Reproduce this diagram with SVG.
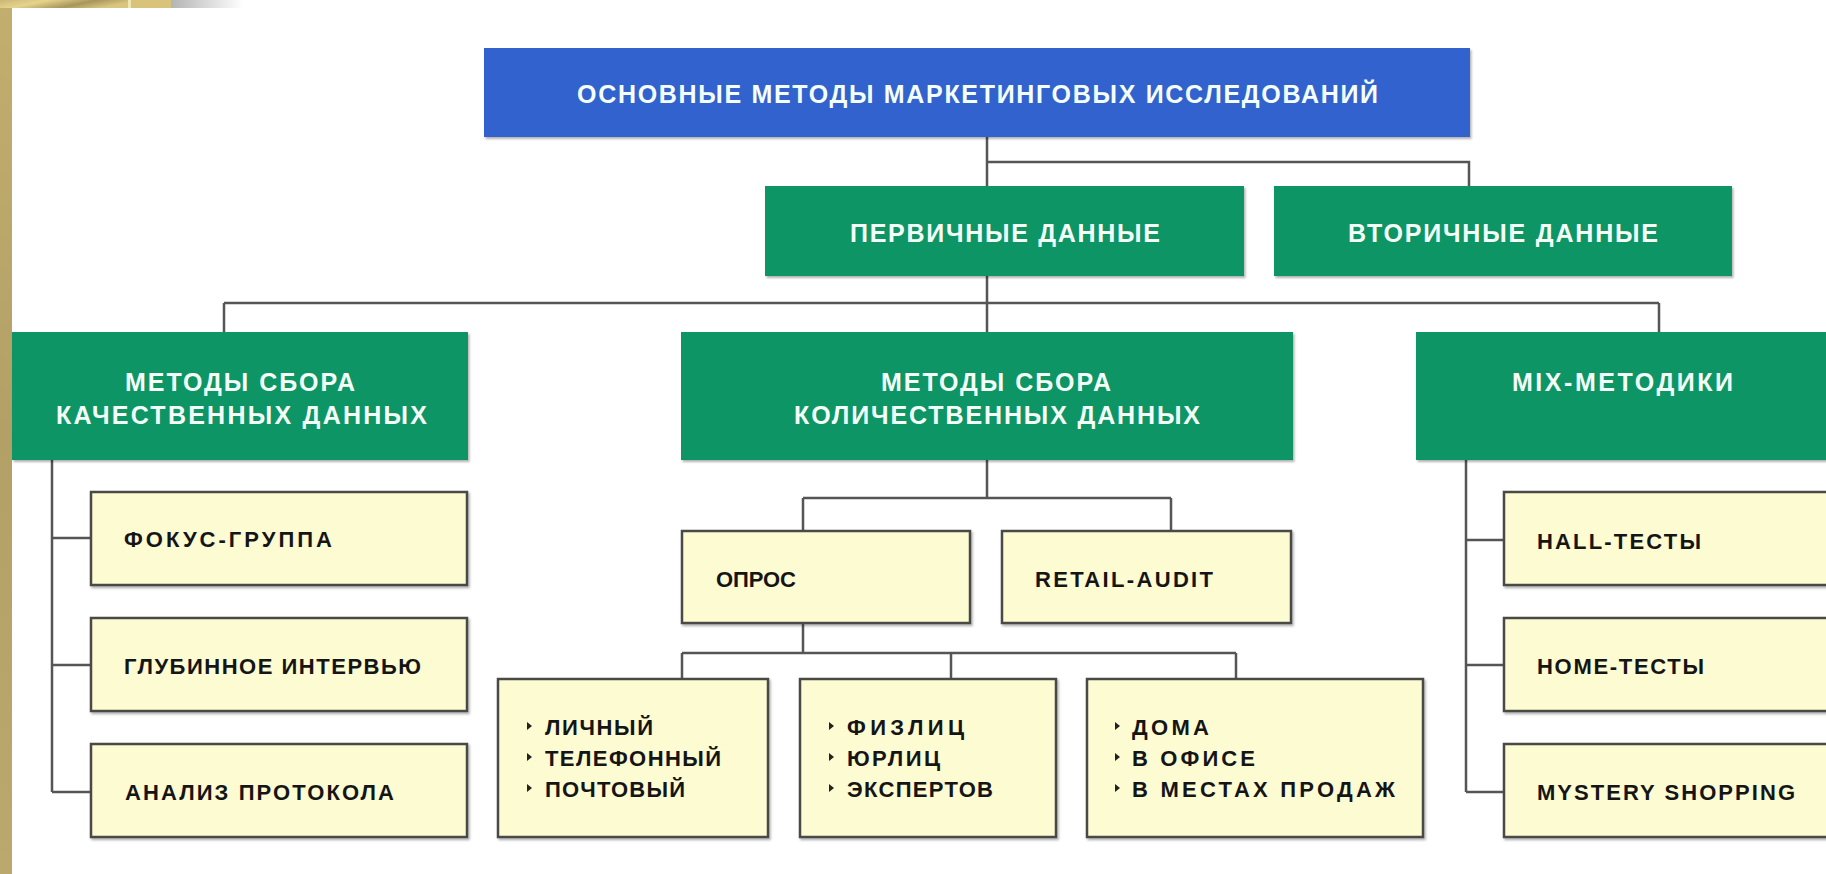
<svg xmlns="http://www.w3.org/2000/svg" width="1826" height="874" viewBox="0 0 1826 874">
<defs>
<linearGradient id="gold" x1="0" y1="0" x2="1" y2="0.3">
<stop offset="0" stop-color="#C9B677"/><stop offset="0.35" stop-color="#E6D48C"/><stop offset="0.7" stop-color="#A8955C"/><stop offset="1" stop-color="#D9C57F"/>
</linearGradient>
<linearGradient id="goldv" x1="0" y1="0" x2="0" y2="1">
<stop offset="0" stop-color="#C2AE6E"/><stop offset="0.5" stop-color="#B3A066"/><stop offset="1" stop-color="#BBA86C"/>
</linearGradient>
<linearGradient id="gray" x1="0" y1="0" x2="1" y2="0">
<stop offset="0" stop-color="#B4B4B4"/><stop offset="1" stop-color="#FFFFFF"/>
</linearGradient>
<filter id="sh" x="-5%" y="-5%" width="110%" height="120%">
<feDropShadow dx="1.5" dy="2" stdDeviation="1.2" flood-color="#000" flood-opacity="0.3"/>
</filter>
</defs>
<style>
.blue{fill:#3062CD;filter:url(#sh)}
.green{fill:#0A9566;filter:url(#sh)}
.yel{fill:#FDFBD2;stroke:#4A4A45;stroke-width:2.5;filter:url(#sh)}
.wt{font-family:"Liberation Sans",Arial,sans-serif;font-weight:bold;font-size:25px;fill:#F4FFF8}
.bt{font-family:"Liberation Sans",Arial,sans-serif;font-weight:bold;font-size:22px;fill:#151515}
.con{fill:none;stroke:#555;stroke-width:2.5}
.bul{fill:#222}
</style>
<rect width="1826" height="874" fill="#FFFFFF"/>
<g id="background">
<rect x="0" y="0" width="12" height="874" fill="url(#goldv)"/>
<rect x="0" y="0" width="128" height="8" fill="url(#gold)"/>
<rect x="128" y="0" width="3" height="8" fill="#F2E6B0"/>
<rect x="131" y="0" width="40" height="8" fill="#D9C37A"/>
<rect x="171" y="0" width="72" height="8" fill="url(#gray)"/>
</g>
<g id="connectors" class="con">
<path d="M987 137V186M987 162H1469V186"/>
<path d="M987 276V332M224 303H1659M224 303V332M1659 303V332"/>
<path d="M52 460V792M52 538H91M52 665H91M52 792H91"/>
<path d="M987 460V498M803 498H1171M803 498V531M1171 498V531"/>
<path d="M803 623V653M682 653H1236M682 653V679M951 653V679M1236 653V679"/>
<path d="M1466 460V792M1466 540H1504M1466 665H1504M1466 792H1504"/>
</g>
<g id="n-root">
<rect class="blue" x="484" y="48" width="986" height="89"/>
<text class="wt" x="577" y="103" textLength="801" lengthAdjust="spacing">ОСНОВНЫЕ МЕТОДЫ МАРКЕТИНГОВЫХ ИССЛЕДОВАНИЙ</text>
</g>
<g id="n-primary">
<rect class="green" x="765" y="186" width="479" height="90"/>
<text class="wt" x="850" y="242" textLength="310" lengthAdjust="spacing">ПЕРВИЧНЫЕ ДАННЫЕ</text>
</g>
<g id="n-secondary">
<rect class="green" x="1274" y="186" width="458" height="90"/>
<text class="wt" x="1348" y="242" textLength="310" lengthAdjust="spacing">ВТОРИЧНЫЕ ДАННЫЕ</text>
</g>
<g id="n-qual">
<rect class="green" x="12" y="332" width="456" height="128"/>
<text class="wt" x="125" y="391" textLength="230" lengthAdjust="spacing">МЕТОДЫ СБОРА</text>
<text class="wt" x="56" y="424" textLength="371" lengthAdjust="spacing">КАЧЕСТВЕННЫХ ДАННЫХ</text>
</g>
<g id="n-quant">
<rect class="green" x="681" y="332" width="612" height="128"/>
<text class="wt" x="881" y="391" textLength="230" lengthAdjust="spacing">МЕТОДЫ СБОРА</text>
<text class="wt" x="794" y="424" textLength="406" lengthAdjust="spacing">КОЛИЧЕСТВЕННЫХ ДАННЫХ</text>
</g>
<g id="n-mix">
<rect class="green" x="1416" y="332" width="420" height="128"/>
<text class="wt" x="1512" y="391" textLength="221" lengthAdjust="spacing">MIX-МЕТОДИКИ</text>
</g>
<g id="n-focus">
<rect class="yel" x="91" y="492" width="376" height="93"/>
<text class="bt" x="124" y="547" textLength="208" lengthAdjust="spacing">ФОКУС-ГРУППА</text>
</g>
<g id="n-depth">
<rect class="yel" x="91" y="618" width="376" height="93"/>
<text class="bt" x="124" y="674" textLength="297" lengthAdjust="spacing">ГЛУБИННОЕ ИНТЕРВЬЮ</text>
</g>
<g id="n-protocol">
<rect class="yel" x="91" y="744" width="376" height="93"/>
<text class="bt" x="125" y="800" textLength="269" lengthAdjust="spacing">АНАЛИЗ ПРОТОКОЛА</text>
</g>
<g id="n-survey">
<rect class="yel" x="682" y="531" width="288" height="92"/>
<text class="bt" x="716" y="587" textLength="80" lengthAdjust="spacing">ОПРОС</text>
</g>
<g id="n-retail">
<rect class="yel" x="1002" y="531" width="289" height="92"/>
<text class="bt" x="1035" y="587" textLength="178" lengthAdjust="spacing">RETAIL-AUDIT</text>
</g>
<g id="n-type">
<rect class="yel" x="498" y="679" width="270" height="158"/>
<path class="bul" d="M527 722l5 4-5 4z M527 753l5 4-5 4z M527 784l5 4-5 4z"/>
<text class="bt" x="545" y="735" textLength="108" lengthAdjust="spacing">ЛИЧНЫЙ</text>
<text class="bt" x="545" y="766" textLength="176" lengthAdjust="spacing">ТЕЛЕФОННЫЙ</text>
<text class="bt" x="545" y="797" textLength="140" lengthAdjust="spacing">ПОЧТОВЫЙ</text>
</g>
<g id="n-whom">
<rect class="yel" x="800" y="679" width="256" height="158"/>
<path class="bul" d="M829 722l5 4-5 4z M829 753l5 4-5 4z M829 784l5 4-5 4z"/>
<text class="bt" x="847" y="735" textLength="117" lengthAdjust="spacing">ФИЗЛИЦ</text>
<text class="bt" x="847" y="766" textLength="93" lengthAdjust="spacing">ЮРЛИЦ</text>
<text class="bt" x="847" y="797" textLength="146" lengthAdjust="spacing">ЭКСПЕРТОВ</text>
</g>
<g id="n-where">
<rect class="yel" x="1087" y="679" width="336" height="158"/>
<path class="bul" d="M1115 722l5 4-5 4z M1115 753l5 4-5 4z M1115 784l5 4-5 4z"/>
<text class="bt" x="1132" y="735" textLength="77" lengthAdjust="spacing">ДОМА</text>
<text class="bt" x="1132" y="766" textLength="123" lengthAdjust="spacing">В ОФИСЕ</text>
<text class="bt" x="1132" y="797" textLength="263" lengthAdjust="spacing">В МЕСТАХ ПРОДАЖ</text>
</g>
<g id="n-hall">
<rect class="yel" x="1504" y="492" width="340" height="93"/>
<text class="bt" x="1537" y="549" textLength="164" lengthAdjust="spacing">HALL-ТЕСТЫ</text>
</g>
<g id="n-home">
<rect class="yel" x="1504" y="618" width="340" height="93"/>
<text class="bt" x="1537" y="674" textLength="167" lengthAdjust="spacing">HOME-ТЕСТЫ</text>
</g>
<g id="n-mystery">
<rect class="yel" x="1504" y="744" width="340" height="93"/>
<text class="bt" x="1537" y="800" textLength="258" lengthAdjust="spacing">MYSTERY SHOPPING</text>
</g>
</svg>
